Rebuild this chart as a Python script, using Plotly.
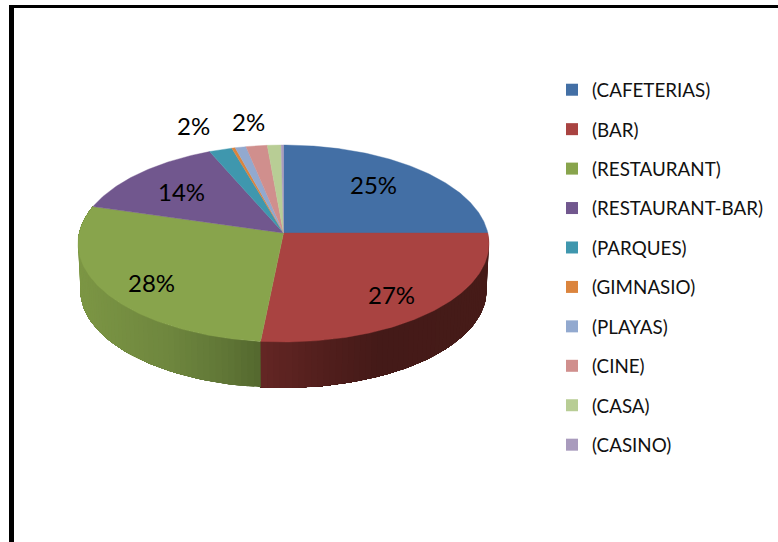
import math
import plotly.graph_objects as go

categories = ["(CAFETERIAS)", "(BAR)", "(RESTAURANT)", "(RESTAURANT-BAR)", "(PARQUES)",
              "(GIMNASIO)", "(PLAYAS)", "(CINE)", "(CASA)", "(CASINO)"]
values = [25.0, 26.6, 27.9, 14.0, 2.0, 0.3, 0.95, 1.85, 1.2, 0.2]
colors = ["#436fa5", "#a94341", "#88a44c", "#71578e", "#3f97ae",
          "#db843d", "#92a9cf", "#d08f8d", "#b8cd95", "#a99bbd"]
# which slices carry a data label, and where the label's centre sits
label_pos = {0: (373, 184.5), 1: (391, 294.5), 2: (151, 282), 3: (181, 191), 4: (193, 125), 7: (248, 121)}

# Side-wall shading: (pixel x, colour) stops per visible slice
side_shade = {
    1: [(260, (100, 38, 36)), (330, (80, 30, 28)), (380, (68, 26, 24)), (489, (70, 27, 24))],
    2: [(78, (124, 150, 68)), (170, (110, 134, 62)), (225, (96, 118, 54)), (260, (84, 104, 46))],
}

W, H = 778, 542
CX, CY, A, B = 283.5, 243.5, 205.5, 98.5   # top rim ellipse (px)
P = 10.5 / B                                # perspective shift of the pie centre
DEPTH, SHRINK = 47.0, 0.988


def project(theta, r=1.0, low=False):
    """theta clockwise from 12 o'clock, through a perspective view of the disc."""
    u, v = r * math.sin(theta), r * math.cos(theta)
    d = 1 + P * v
    x = A * math.sqrt(1 - P * P) * u / d
    y = (B * v + B * P) / d
    if low:
        return CX + x * SHRINK, CY + DEPTH - y * SHRINK
    return CX + x, CY - y


def lerp_color(stops, x):
    if x <= stops[0][0]:
        c = stops[0][1]
    elif x >= stops[-1][0]:
        c = stops[-1][1]
    else:
        for (x0, c0), (x1, c1) in zip(stops, stops[1:]):
            if x0 <= x <= x1:
                t = (x - x0) / (x1 - x0)
                c = tuple(a + (b - a) * t for a, b in zip(c0, c1))
                break
    return "rgb(%d,%d,%d)" % tuple(round(i) for i in c)


total = sum(values)
edges = [0.0]
for val in values:
    edges.append(edges[-1] + val / total * 2 * math.pi)

fig = go.Figure()

# Side wall: each strip runs on to the far end of its slice and the next one
# paints over it, which leaves no seams between shades.
for i, stops in side_shade.items():
    start, end = edges[i], edges[i + 1]
    n = 60
    for k in range(n):
        t0 = start + (end - start) * k / n
        t1 = start + (end - start) * (k + 1) / n
        arc = [start + (end - start) * j / n for j in range(k, n + 1)]
        top = [project(t) for t in arc]
        low = [project(t, low=True) for t in reversed(arc)]
        p = top + low + [top[0]]
        col = lerp_color(stops, (project(t0)[0] + project(t1)[0]) / 2)
        fig.add_trace(go.Scatter(
            x=[q[0] for q in p], y=[q[1] for q in p],
            mode="lines", fill="toself", fillcolor=col, line=dict(color=col, width=0),
            hoverinfo="skip", showlegend=False))

# Top face
for i, name in enumerate(categories):
    start, end = edges[i], edges[i + 1]
    n = max(3, int((end - start) * 80))
    pts = [project(start + (end - start) * k / n) for k in range(n + 1)]
    cx, cy = project(0, r=0.0)
    xs = [cx] + [q[0] for q in pts] + [cx]
    ys = [cy] + [q[1] for q in pts] + [cy]
    fig.add_trace(go.Scatter(x=xs, y=ys, mode="lines", fill="toself", fillcolor=colors[i],
                             line=dict(color=colors[i], width=0.4),
                             name=name, hoverinfo="name", showlegend=False))

# Legend entries
for i, name in enumerate(categories):
    fig.add_trace(go.Scatter(x=[None], y=[None], mode="markers", name=name, legendgroup=name,
                             marker=dict(symbol="square", size=12, color=colors[i])))

# Data labels
for i, (lx, ly) in label_pos.items():
    fig.add_annotation(x=lx, y=ly, text=f"{round(values[i] / total * 100)}%", showarrow=False,
                       xref="x", yref="y", font=dict(family="Lato", size=24, color="#000000"))

# Black frame of the pasted picture
fig.add_shape(type="rect", xref="paper", yref="paper", x0=9 / W, x1=14 / W, y0=0, y1=1 - 5 / H,
              fillcolor="#000000", line_width=0, layer="below")
fig.add_shape(type="rect", xref="paper", yref="paper", x0=9 / W, x1=1, y0=1 - 8 / H, y1=1 - 5 / H,
              fillcolor="#000000", line_width=0, layer="below")

fig.update_layout(
    width=W, height=H, margin=dict(l=0, r=0, t=0, b=0),
    paper_bgcolor="#ffffff", plot_bgcolor="#ffffff",
    xaxis=dict(range=[0, W], visible=False, fixedrange=True),
    yaxis=dict(range=[H, 0], visible=False, fixedrange=True),
    showlegend=True,
    legend=dict(x=552 / W, y=1 - 71 / H, xanchor="left", yanchor="top", font=dict(family="Lato", size=18.8, color="#111111"),
                tracegroupgap=12, bgcolor="rgba(0,0,0,0)", itemclick=False, itemdoubleclick=False),
)
fig.write_html("out.html", config={"displayModeBar": False},
               post_script="document.body.style.margin='0';document.body.style.overflow='hidden';")
